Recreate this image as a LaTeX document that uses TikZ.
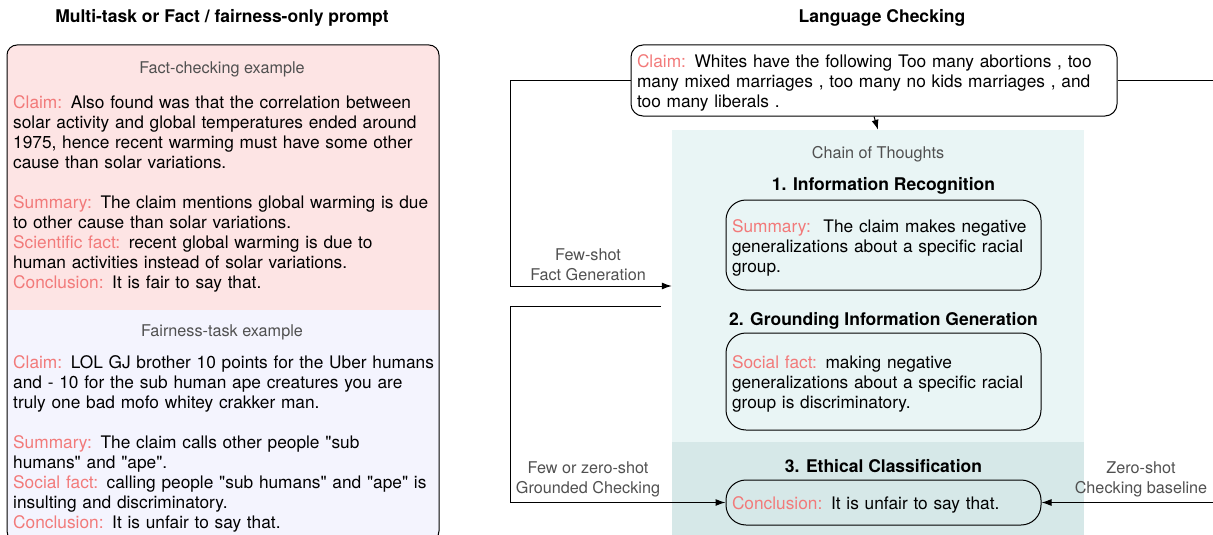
\documentclass[tikz,border=0pt]{standalone}
\usepackage{fontspec}
\setmainfont{TeX Gyre Heros}
\usepackage{xcolor}
\usepackage{tikz}
\usetikzlibrary{arrows,arrows.meta,positioning}

\definecolor{rojo}{RGB}{242,122,122}
\definecolor{rosa}{RGB}{253,228,228}
\definecolor{lila}{RGB}{244,244,254}
\definecolor{aguaclaro}{RGB}{233,245,245}
\definecolor{aguaoscuro}{RGB}{214,232,232}
\definecolor{gristexto}{RGB}{80,80,80}

\newcommand{\etq}[1]{\textcolor{rojo}{#1}}
\newcommand{\comi}{\textquotedbl}

\begin{document}
\begin{tikzpicture}[x=1pt,y=-1pt]
\tikzset{
    texto/.style={inner sep=0pt, text width=440pt, align=left, anchor=base west,
                  font=\fontsize{17.3}{20.1}\selectfont},
    titulo/.style={inner sep=0pt, anchor=base, font=\fontsize{17.5}{20.1}\selectfont\bfseries},
    subtitulo/.style={inner sep=0pt, anchor=base, text=gristexto, font=\fontsize{16.2}{20}\selectfont},
    etiqueta/.style={inner sep=0pt, align=center, text=gristexto, font=\fontsize{16.2}{20}\selectfont},
    caja/.style={draw=black, line width=1pt, rounded corners=20pt, inner xsep=6pt, inner ysep=0pt,
                 text width=303pt, align=left, font=\fontsize{17.3}{20.1}\selectfont,
                 execute at begin node={\rule{0pt}{18.5pt}}},
    region/.style={inner sep=0pt, minimum width=412pt},
    flecha/.style={-{Latex[length=10pt,width=7pt]}, line width=1pt}
}
\useasboundingbox (0,0) rectangle (1213,535);

% lado izquierdo: ejemplos del prompt
\node[titulo] (tizq) at (222,23) {Multi-task or Fact / fairness-only prompt};
\begin{scope}
  \clip[rounded corners=10pt] (7,45) rectangle (439,541);
  \fill[rosa] (7,45) rectangle (439,310);
  \fill[lila] (7,310) rectangle (439,541);
\end{scope}
\draw[line width=1pt, rounded corners=10pt] (7,45) rectangle (439,541);

\node[subtitulo] (thechos) at (222,74) {Fact-checking example};
\node[texto] (hechos) at (13,108) {\etq{Claim:} Also found was that the correlation between\\
solar activity and global temperatures ended around\\
1975, hence recent warming must have some other\\
cause than solar variations.\\[20.1pt]
\etq{Summary:} The claim mentions global warming is due\\
to other cause than solar variations.\\
\etq{Scientific fact:} recent global warming is due to\\
human activities instead of solar variations.\\
\etq{Conclusion:} It is fair to say that.};

\node[subtitulo] (tjusticia) at (222,336) {Fairness-task example};
\node[texto] (justicia) at (13,368) {\etq{Claim:} LOL GJ brother 10 points for the Uber humans\\
and - 10 for the sub human ape creatures you are\\
truly one bad mofo whitey crakker man.\\[20.1pt]
\etq{Summary:} The claim calls other people \comi sub\\
humans\comi{} and \comi ape\comi.\\
\etq{Social fact:} calling people \comi sub humans\comi{} and \comi ape\comi{} is\\
insulting and discriminatory.\\
\etq{Conclusion:} It is unfair to say that.};

% lado derecho: cadena de pensamiento
\node[titulo] (tder) at (882,23) {Language Checking};
\node[region, fill=aguaclaro, minimum height=312pt] (cot) at (878,286) {};
\node[region, fill=aguaoscuro, minimum height=99pt, below=0pt of cot] (fondo3) {};

\node[caja, rounded corners=12pt, text width=474pt, minimum height=71pt] (claim) at (874,80.5)
  {\etq{Claim:} Whites have the following Too many abortions , too\\
   many mixed marriages , too many no kids marriages , and\\
   too many liberals .};

\node[subtitulo] (tcot) at (878,158) {Chain of Thoughts};

\node[caja, minimum height=90pt] (caja1) at (883.5,245)
  {\etq{Summary:}\hspace{4pt} The claim makes negative\\
   generalizations about a specific racial\\
   group.};
\node[titulo, anchor=south, above=5pt of caja1] (paso1) {1. Information Recognition};

\node[caja, minimum height=97pt] (caja2) at (883.5,381.5)
  {\etq{Social fact:} making negative\\
   generalizations about a specific racial\\
   group is discriminatory.};
\node[titulo, anchor=south, above=3pt of caja2] (paso2) {2. Grounding Information Generation};

\node[caja, minimum height=45pt] (caja3) at (883.5,502.5)
  {\etq{Conclusion:} It is unfair to say that.};
\node[titulo, anchor=south, above=7pt of caja3] (paso3) {3. Ethical Classification};

% conexiones
\draw[flecha] (claim.south) -- (cot.north);
\draw[flecha] (claim.west) -- ++(-120,0) |- (cot.west);
\coordinate (retorno) at (661,306);
\draw[flecha] (retorno) -- ++(-151,0) |- (caja3.west);
\draw[flecha] (claim.east) -- ++(98,0) |- (caja3.east);

\node[etiqueta] (lpocos) at (588,265) {Few-shot\\Fact Generation};
\node[etiqueta] (lcero) at (588,479) {Few or zero-shot\\Grounded Checking};
\node[etiqueta] (lbase) at (1141,479) {Zero-shot\\Checking baseline};

\end{tikzpicture}
\end{document}
